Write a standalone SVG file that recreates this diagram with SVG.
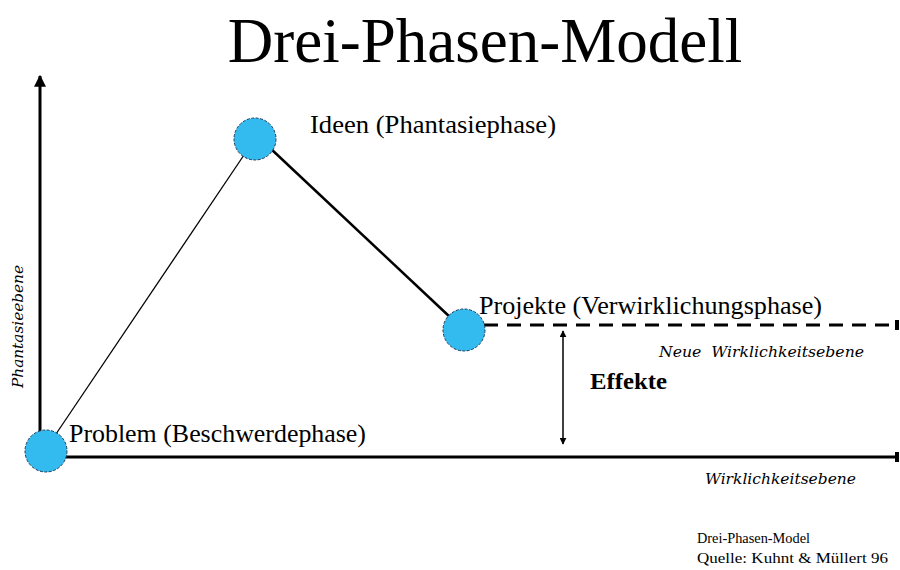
<svg xmlns="http://www.w3.org/2000/svg" width="900" height="570" viewBox="0 0 900 570">
<defs>
<style>
.serif{font-family:"Liberation Serif","Times New Roman",serif;fill:#000}
.ital{font-family:"DejaVu Serif","Liberation Serif",serif;font-style:italic;fill:#000}
.node{fill:#33bbf0;stroke:#1a3a5a;stroke-width:1;stroke-dasharray:3 1.5}
.ax{stroke:#000;stroke-width:3;fill:none}
</style>
<marker id="ah" viewBox="0 0 10 10" refX="9" refY="5" markerWidth="4" markerHeight="4" orient="auto" markerUnits="strokeWidth"><path d="M0,0 L10,5 L0,10 z" fill="#000"/></marker>
<marker id="sm" viewBox="0 0 10 10" refX="9" refY="5" markerWidth="7" markerHeight="7" orient="auto-start-reverse" markerUnits="userSpaceOnUse"><path d="M0,0 L10,5 L0,10 z" fill="#000"/></marker>
<marker id="tk" viewBox="0 0 4 10" refX="2" refY="5" markerWidth="4" markerHeight="10" orient="auto" markerUnits="userSpaceOnUse"><rect x="0" y="0" width="4" height="10" fill="#000"/></marker>
</defs>
<rect width="900" height="570" fill="#fff"/>
<text class="serif" x="485" y="62" font-size="63" text-anchor="middle">Drei-Phasen-Modell</text>
<g id="connectors">
<line class="ax" x1="40" y1="455" x2="40" y2="76" marker-end="url(#ah)"/>
<line class="ax" x1="40" y1="457" x2="897" y2="457" marker-end="url(#tk)"/>
<line x1="484" y1="325" x2="897" y2="325" stroke="#000" stroke-width="3" stroke-dasharray="14 9" marker-end="url(#tk)"/>
<line x1="56" y1="434" x2="244" y2="155" stroke="#000" stroke-width="1.3"/>
<line x1="270" y1="148" x2="451" y2="318" stroke="#000" stroke-width="2.5"/>
<line x1="563" y1="331" x2="563" y2="444" stroke="#000" stroke-width="1.5" marker-start="url(#sm)" marker-end="url(#sm)"/>
</g>
<g id="problem">
<circle class="node" cx="46" cy="451" r="21"/>
<text class="serif" x="69" y="442" font-size="25" textLength="297" lengthAdjust="spacingAndGlyphs">Problem (Beschwerdephase)</text>
</g>
<g id="ideen">
<circle class="node" cx="255" cy="139" r="21"/>
<text class="serif" x="310" y="133" font-size="25" textLength="246" lengthAdjust="spacingAndGlyphs">Ideen (Phantasiephase)</text>
</g>
<g id="projekte">
<circle class="node" cx="464" cy="330" r="21"/>
<text class="serif" x="479" y="314" font-size="25" textLength="343" lengthAdjust="spacingAndGlyphs">Projekte (Verwirklichungsphase)</text>
</g>
<g id="labels">
<text class="serif" x="590" y="389" font-size="24" font-weight="bold" textLength="77" lengthAdjust="spacingAndGlyphs">Effekte</text>
<text class="ital" x="659" y="357" font-size="15.5" xml:space="preserve" textLength="205" lengthAdjust="spacingAndGlyphs">Neue  Wirklichkeitsebene</text>
<text class="ital" x="705" y="484" font-size="15.5" textLength="151" lengthAdjust="spacingAndGlyphs">Wirklichkeitsebene</text>
<text class="ital" transform="translate(23,388) rotate(-90)" font-size="15.5" textLength="123" lengthAdjust="spacingAndGlyphs">Phantasieebene</text>
<text class="serif" x="697" y="543" font-size="14.5" textLength="113" lengthAdjust="spacingAndGlyphs">Drei-Phasen-Model</text>
<text class="serif" x="697" y="563" font-size="14.5" textLength="191" lengthAdjust="spacingAndGlyphs">Quelle: Kuhnt &amp; Müllert 96</text>
</g>
</svg>
